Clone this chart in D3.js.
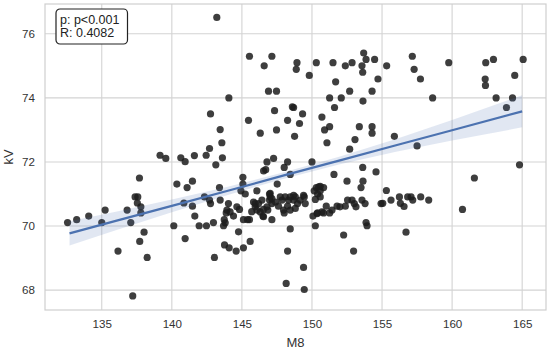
<!DOCTYPE html>
<html>
<head>
<meta charset="utf-8">
<script src="https://cdn.jsdelivr.net/npm/d3@7"></script>
<style>
  body { margin: 0; background: #fff; }
  svg { font-family: "Liberation Sans", Arial, sans-serif; }
</style>
</head>
<body>
<svg id="svg1" width="550" height="349"></svg>
<script>
"use strict"

// ======================================================================
// data: M8 (x) and kV (y)
const m8 = [
  132.56, 133.21, 134.07, 135.00, 135.24, 136.16, 136.81, 137.07, 137.21, 137.38,
  137.57, 137.54, 137.79, 137.79, 137.69, 137.71, 138.02, 138.24, 139.16, 139.57,
  140.14, 140.36, 140.64, 140.95, 140.86, 140.95, 141.09, 141.47, 141.47, 141.61,
  141.64, 141.95, 142.47, 142.97, 142.33, 142.69, 142.76, 142.45, 142.69, 142.76,
  143.21, 143.45, 143.57, 143.61, 143.14, 143.04, 143.40, 143.45, 144.04, 143.93,
  144.16, 144.40, 143.88, 143.74, 143.81, 143.69, 144.64, 144.83, 144.76, 143.76,
  144.09, 144.59, 145.11, 145.59, 144.07, 145.07, 145.07, 144.93, 145.24, 145.11,
  145.40, 145.54, 145.54, 145.47, 146.59, 147.14, 146.90, 147.47, 147.33, 148.69,
  148.60, 149.33, 148.26, 149.11, 147.47, 146.31, 148.76, 147.26, 146.79, 148.26,
  150.00, 148.02, 146.55, 146.70, 148.45, 146.07, 146.97, 147.52, 148.93, 148.88,
  150.31, 149.81, 148.45, 148.26, 148.16, 149.40, 149.45, 145.95, 145.95, 146.19,
  146.43, 146.54, 146.97, 146.79, 147.14, 146.50, 147.14, 147.02, 147.61, 147.86,
  148.02, 148.26, 148.45, 148.69, 148.81, 148.97, 149.16, 149.45, 149.52, 145.83,
  146.31, 146.85, 147.02, 147.14, 148.09, 148.33, 148.69, 149.40, 147.97, 148.45,
  148.81, 147.74, 146.54, 146.07, 147.40, 145.70, 150.07, 150.24, 150.40, 150.83,
  151.02, 151.26, 151.43, 151.79, 152.38, 152.54, 152.86, 153.02, 153.14, 153.57,
  153.79, 152.26, 152.97, 153.86, 153.93, 150.16, 150.31, 150.40, 150.59, 150.59,
  150.59, 150.83, 150.24, 154.93, 151.57, 152.50, 153.64, 153.50, 153.62, 154.57,
  151.07, 152.69, 153.07, 153.38, 154.29, 154.29, 150.71, 150.90, 151.26, 151.61,
  153.64, 151.26, 152.09, 152.69, 154.29, 151.69, 154.71, 151.50, 152.38, 152.86,
  153.69, 153.86, 153.57, 153.62, 154.47, 150.48, 150.71, 150.36, 152.00, 155.33,
  157.16, 157.29, 157.74, 159.76, 158.61, 162.40, 162.95, 162.36, 162.38, 165.07,
  164.47, 163.14, 164.31, 163.88, 155.88, 157.50, 164.81, 161.59, 160.74, 155.31,
  155.05, 155.64, 156.24, 156.31, 156.57, 156.83, 157.07, 157.19, 157.76, 158.33,
  156.71
];
const kv = [
  70.11, 70.20, 70.31, 70.11, 70.50, 69.22, 70.50, 70.11, 67.82, 70.91,
  70.91, 70.72, 70.60, 70.41, 71.50, 69.52, 69.81, 69.02, 72.21, 72.11,
  70.01, 71.31, 72.13, 72.01, 70.72, 69.61, 71.20, 71.40, 70.62, 72.20,
  70.31, 70.01, 70.01, 70.11, 70.91, 70.81, 70.70, 72.21, 72.42, 73.50,
  76.51, 73.01, 72.60, 72.13, 71.91, 69.02, 71.20, 70.81, 70.70, 70.50,
  70.44, 70.31, 70.41, 70.20, 70.10, 70.01, 70.60, 70.52, 69.82, 69.41,
  69.32, 69.22, 69.32, 69.52, 74.00, 71.52, 71.31, 71.10, 71.00, 70.20,
  70.20, 70.20, 75.30, 73.30, 75.00, 75.30, 74.21, 74.21, 73.60, 73.70,
  73.72, 73.50, 73.30, 73.20, 73.00, 72.90, 72.80, 72.11, 72.00, 72.00,
  72.00, 71.83, 71.72, 71.76, 71.61, 71.10, 71.00, 71.31, 75.10, 74.89,
  75.10, 74.70, 69.91, 69.22, 68.21, 68.71, 68.02, 70.70, 70.60, 70.70,
  70.81, 70.52, 70.81, 70.60, 70.70, 70.31, 70.20, 70.91, 70.62, 70.81,
  70.41, 70.62, 70.91, 70.81, 70.91, 70.70, 70.81, 70.91, 70.70, 70.75,
  70.44, 70.50, 71.02, 70.86, 70.91, 70.81, 70.96, 70.96, 70.50, 70.50,
  70.55, 70.91, 70.29, 70.50, 70.75, 70.45, 70.31, 70.01, 70.41, 70.41,
  70.62, 70.41, 70.50, 70.62, 70.62, 70.81, 70.81, 70.70, 70.60, 70.81,
  70.70, 69.72, 69.22, 70.11, 70.01, 71.10, 71.20, 71.00, 70.91, 71.10,
  71.24, 71.20, 70.83, 70.70, 71.61, 71.40, 71.40, 71.20, 71.83, 71.69,
  72.60, 72.40, 72.70, 73.10, 73.10, 72.90, 73.40, 73.00, 73.10, 73.70,
  73.90, 74.00, 74.00, 74.21, 74.21, 74.50, 74.59, 75.10, 75.00, 75.10,
  75.40, 75.20, 75.00, 74.80, 75.20, 71.22, 70.44, 70.39, 70.60, 75.00,
  75.30, 74.89, 74.59, 75.10, 74.00, 75.10, 75.20, 74.59, 74.39, 75.20,
  74.70, 74.00, 74.00, 73.70, 72.80, 72.50, 71.91, 71.50, 70.52, 71.11,
  70.71, 70.81, 70.91, 70.71, 70.61, 70.91, 70.91, 70.81, 70.91, 70.81,
  69.81
];

// regression line and confidence band
const fitX  = [132.7, 136, 140, 144, 148, 152, 156, 160, 165];
const fitY  = [69.77, 70.16, 70.63, 71.10, 71.58, 72.05, 72.52, 72.99, 73.58];
const ciLo  = [69.39, 69.87, 70.43, 70.97, 71.48, 71.93, 72.32, 72.67, 73.08];
const ciHi  = [70.15, 70.45, 70.83, 71.23, 71.68, 72.17, 72.72, 73.31, 74.08];

const xTicks = [135, 140, 145, 150, 155, 160, 165];
const yTicks = [68, 70, 72, 74, 76];
const statLines = ["p: p<0.001", "R: 0.4082"];

// ======================================================================
const svg = d3.select("#svg1");
const plot = {left: 45, right: 546, top: 4, bottom: 310};

const x = d3.scaleLinear().domain([130.95, 166.7]).range([plot.left, plot.right]);
const y = d3.scaleLinear().domain([67.38, 76.93]).range([plot.bottom, plot.top]);

// grid lines
const grid = svg.append("g").attr("stroke", "#d3d3d3").attr("stroke-width", 1.1);
grid.selectAll(".gx").data(xTicks).enter().append("line")
  .attr("x1", d => x(d)).attr("x2", d => x(d))
  .attr("y1", plot.top).attr("y2", plot.bottom);
grid.selectAll(".gy").data(yTicks).enter().append("line")
  .attr("x1", plot.left).attr("x2", plot.right)
  .attr("y1", d => y(d)).attr("y2", d => y(d));

// frame
svg.append("rect")
  .attr("x", plot.left).attr("y", plot.top)
  .attr("width", plot.right - plot.left).attr("height", plot.bottom - plot.top)
  .attr("fill", "none").attr("stroke", "#cfcfcf").attr("stroke-width", 1.2);

// axes (tick labels only, seaborn whitegrid style)
const xAxis = svg.append("g")
  .attr("transform", `translate(0,${plot.bottom})`)
  .call(d3.axisBottom(x).tickValues(xTicks).tickSize(0).tickPadding(10));
const yAxis = svg.append("g")
  .attr("transform", `translate(${plot.left},0)`)
  .call(d3.axisLeft(y).tickValues(yTicks).tickSize(0).tickPadding(10));
[xAxis, yAxis].forEach(a => {
  a.select(".domain").remove();
  a.selectAll("text")
    .attr("fill", "#333")
    .style("font-family", "Liberation Sans, Arial, sans-serif")
    .style("font-size", "11.6px");
});

// axis titles
svg.append("text")
  .attr("x", (plot.left + plot.right) / 2).attr("y", 346.5)
  .attr("text-anchor", "middle").attr("fill", "#333")
  .style("font-size", "13px").text("M8");
svg.append("text")
  .attr("transform", `translate(13,${(plot.top + plot.bottom) / 2}) rotate(-90)`)
  .attr("text-anchor", "middle").attr("fill", "#333")
  .style("font-size", "13px").text("kV");

// points
const pts = m8.map((d, i) => ({x: d, y: kv[i]}));
svg.append("g").selectAll("circle")
  .data(pts).enter().append("circle")
  .attr("cx", d => x(d.x)).attr("cy", d => y(d.y))
  .attr("r", 3.6)
  .attr("fill", "#1c1c1c").attr("fill-opacity", 0.85);

// confidence band and regression line
const band = fitX.map((d, i) => ({x: d, lo: ciLo[i], hi: ciHi[i], f: fitY[i]}));
svg.append("path")
  .datum(band)
  .attr("fill", "#4c72b0").attr("fill-opacity", 0.17)
  .attr("d", d3.area().x(d => x(d.x)).y0(d => y(d.lo)).y1(d => y(d.hi)));
svg.append("path")
  .datum(band)
  .attr("fill", "none").attr("stroke", "#4c72b0").attr("stroke-width", 2.2)
  .attr("d", d3.line().x(d => x(d.x)).y(d => y(d.f)));

// stats box
const box = svg.append("g").attr("transform", "translate(56,9)");
box.append("rect")
  .attr("width", 71.5).attr("height", 35).attr("rx", 4)
  .attr("fill", "#fff").attr("stroke", "#222").attr("stroke-width", 1.2);
box.selectAll("text").data(statLines).enter().append("text")
  .attr("x", 4).attr("y", (d, i) => 14.5 + i * 13.5)
  .attr("fill", "#222").style("font-size", "12.5px")
  .text(d => d);
</script>
</body>
</html>
